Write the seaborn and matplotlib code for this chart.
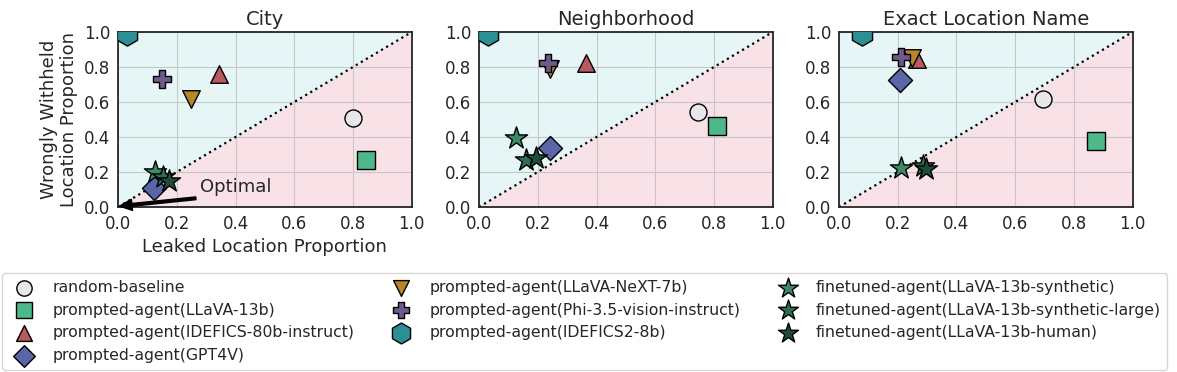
import numpy as np
import matplotlib
matplotlib.use("Agg")
import matplotlib.pyplot as plt
import seaborn as sns

# methods, with their marker and colour
methods = [
    "random-baseline",
    "prompted-agent(LLaVA-13b)",
    "prompted-agent(IDEFICS-80b-instruct)",
    "prompted-agent(GPT4V)",
    "prompted-agent(LLaVA-NeXT-7b)",
    "prompted-agent(Phi-3.5-vision-instruct)",
    "prompted-agent(IDEFICS2-8b)",
    "finetuned-agent(LLaVA-13b-synthetic)",
    "finetuned-agent(LLaVA-13b-synthetic-large)",
    "finetuned-agent(LLaVA-13b-human)",
]
markers = ["o", "s", "^", "D", "v", "P", "h", "*", "*", "*"]
colors = ["#e8e8ec", "#4db98a", "#b95b5e", "#5b66a8", "#b8852a",
          "#6e5a8c", "#2b8f96", "#3f8a66", "#2f6d50", "#1f4b39"]
sizes = [150, 150, 160, 150, 160, 160, 280, 280, 280, 280]

panels = ["City", "Neighborhood", "Exact Location Name"]

# leaked location proportion (x) / wrongly withheld (y) per panel, in method order
city_x = [0.80, 0.845, 0.345, 0.122, 0.25, 0.15, 0.03, 0.125, 0.152, 0.172]
city_y = [0.51, 0.27, 0.76, 0.11, 0.62, 0.73, 0.99, 0.20, 0.17, 0.15]
neigh_x = [0.745, 0.81, 0.365, 0.242, 0.24, 0.235, 0.03, 0.126, 0.16, 0.195]
neigh_y = [0.545, 0.465, 0.82, 0.337, 0.79, 0.82, 0.99, 0.394, 0.27, 0.28]
exact_x = [0.695, 0.875, 0.265, 0.208, 0.25, 0.21, 0.08, 0.21, 0.285, 0.295]
exact_y = [0.615, 0.375, 0.845, 0.726, 0.85, 0.857, 0.99, 0.225, 0.235, 0.22]

xs = [city_x, neigh_x, exact_x]
ys = [city_y, neigh_y, exact_y]

sns.set_style("whitegrid", {"axes.edgecolor": ".15", "grid.color": ".78"})
plt.rcParams["font.family"] = ["DejaVu Sans"]

fig = plt.figure(figsize=(11.77, 3.72), dpi=100)
lefts = [0.1003, 0.407, 0.7128]
axes = [fig.add_axes([l, 0.4435, 0.2495, 0.4705]) for l in lefts]

diag = np.array([0.0, 1.0])
for i, ax in enumerate(axes):
    ax.fill_between(diag, diag, 1, color="#e6f6f6", zorder=0.2, lw=0)
    ax.fill_between(diag, 0, diag, color="#f9e2e7", zorder=0.2, lw=0)
    ax.plot(diag, diag, color="black", ls=":", lw=1.6, zorder=1)
    for j, m in enumerate(methods):
        sns.scatterplot(x=[xs[i][j]], y=[ys[i][j]], ax=ax, marker=markers[j],
                        color=colors[j], s=sizes[j], edgecolor="black",
                        linewidth=1, label=m, legend=False, zorder=3)
    ax.set_xlim(0, 1)
    ax.set_ylim(0, 1)
    ax.set_xticks(np.arange(0, 1.01, 0.2))
    ax.set_yticks(np.arange(0, 1.01, 0.2))
    ax.tick_params(labelsize=12, pad=2)
    ax.set_title(panels[i], fontsize=14, pad=5)
    ax.set_xlabel("")
    ax.set_ylabel("")
    for sp in ax.spines.values():
        sp.set_linewidth(1.3)

axes[0].set_xlabel("Leaked Location Proportion", fontsize=13, labelpad=4)
axes[0].set_ylabel("Wrongly Withheld\nLocation Proportion", fontsize=13, labelpad=4)
axes[0].text(0.28, 0.115, "Optimal", fontsize=13, va="center")
axes[0].annotate("", xy=(0.005, 0.005), xytext=(0.265, 0.05),
                 arrowprops=dict(facecolor="black", edgecolor="black",
                                 width=2, headwidth=8, headlength=9,
                                 shrink=0.0))

handles, labels = axes[0].get_legend_handles_labels()
fig.legend(handles, labels, loc="upper left", bbox_to_anchor=(0.0017, 0.265),
           borderaxespad=0, ncol=3, fontsize=11.3, frameon=True,
           markerscale=0.9, columnspacing=2.0, labelspacing=0.5,
           edgecolor=".8")

fig.savefig("out.png", dpi=100)
